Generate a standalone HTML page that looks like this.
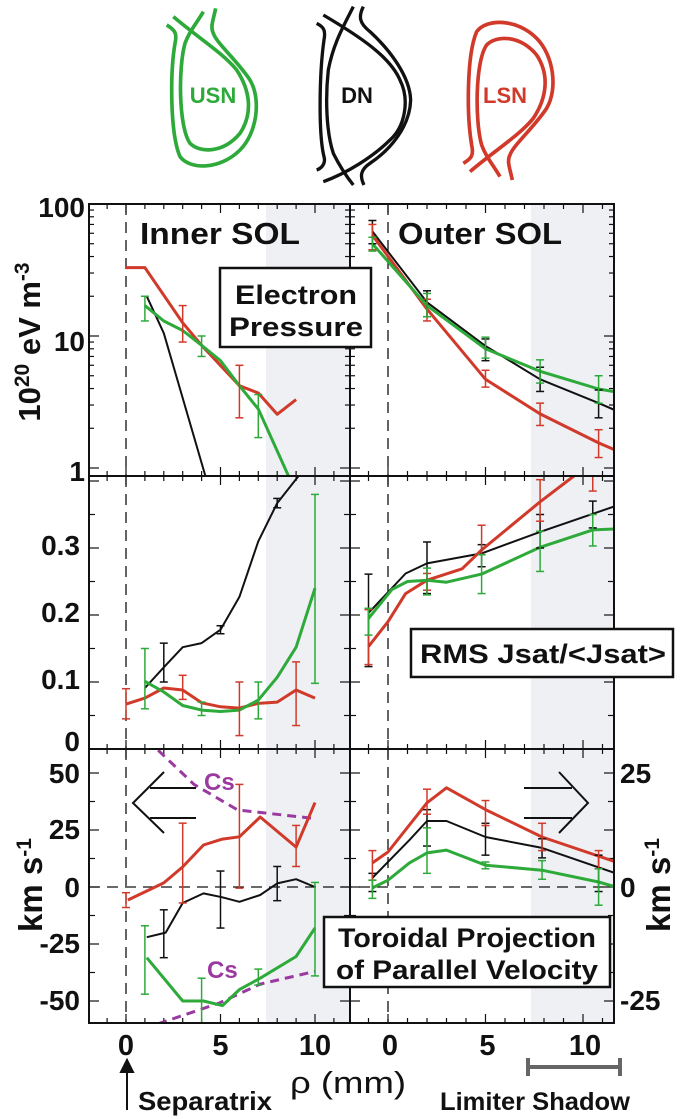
<!DOCTYPE html>
<html><head><meta charset="utf-8">
<style>
html,body{margin:0;padding:0;background:#fff;}
svg{display:block;font-family:"Liberation Sans",Arial,sans-serif;font-weight:bold;}
</style></head>
<body>
<svg id="fig" width="685" height="1119" viewBox="0 0 685 1119" xmlns="http://www.w3.org/2000/svg">
<defs>
<clipPath id="cIn1"><rect x="89" y="204" width="261" height="272"/></clipPath>
<clipPath id="cOut1"><rect x="350" y="204" width="264" height="272"/></clipPath>
<clipPath id="cIn2"><rect x="89" y="476" width="261" height="273"/></clipPath>
<clipPath id="cOut2"><rect x="350" y="476" width="264" height="273"/></clipPath>
<clipPath id="cIn3"><rect x="89" y="749" width="261" height="274"/></clipPath>
<clipPath id="cOut3"><rect x="350" y="749" width="264" height="274"/></clipPath>
</defs>
<!-- schematics (drawn in 3x coords) -->
<g fill="none" stroke="#2eaa3a" stroke-width="11" transform="translate(160,0) scale(0.3333)">
<path d="M20,75 C45,90 52,100 45,130 C30,220 30,400 60,470 C90,510 180,510 240,450 C290,400 305,300 270,240 C230,180 170,130 160,100 C150,80 160,60 167,25"/>
<path d="M130,35 C110,70 90,90 75,130 C55,200 55,380 90,430 C120,460 190,460 240,400 C280,340 270,270 230,210 C190,160 110,110 40,50"/>
</g>
<text x="213" y="103" fill="#2eaa3a" font-size="22" text-anchor="middle">USN</text>
<g fill="none" stroke="#111" stroke-width="10" transform="translate(160,0) scale(0.3333)">
<path d="M470,70 C490,80 498,90 492,120 C478,220 475,400 492,470 C498,490 485,505 470,510"/>
<path d="M490,45 C600,110 690,170 720,240 C750,300 735,380 690,420 C640,470 560,520 490,545"/>
<path d="M580,20 C550,80 520,130 505,210 C495,300 500,400 520,460 C540,500 560,530 580,555"/>
<path d="M610,20 C595,50 598,70 630,95 C690,150 750,230 752,300 C750,380 690,450 630,490 C600,510 600,530 612,555"/>
</g>
<text x="357" y="103" fill="#111" font-size="22" text-anchor="middle">DN</text>
<g fill="none" stroke="#d13a2a" stroke-width="11" transform="translate(160,0) scale(0.3333) translate(890,565) scale(1,-1)">
<path d="M20,75 C45,90 52,100 45,130 C30,220 30,400 60,470 C90,510 180,510 240,450 C290,400 305,300 270,240 C230,180 170,130 160,100 C150,80 160,60 167,25"/>
<path d="M130,35 C110,70 90,90 75,130 C55,200 55,380 90,430 C120,460 190,460 240,400 C280,340 270,270 230,210 C190,160 110,110 40,50"/>
</g>
<text x="505" y="103" fill="#d13a2a" font-size="22" text-anchor="middle">LSN</text>
<g id="plots"></g>
</svg>
<script>
// ---------- data: panel 1 (electron pressure, log) ----------
const p1InRedX=[0,1,3,4,6,7,8,9];
const p1InRedY=[33,33,12.6,8.5,4.2,3.7,2.55,3.3];
const p1InRedErrX=[3,6]; const p1InRedErrLo=[9,2.4]; const p1InRedErrHi=[17,6];
const p1InGreenX=[1,2,3,4,5,6,7,8.6];
const p1InGreenY=[17,13,11,8.5,6.5,4.2,2.8,0.87];
const p1InGreenErrX=[1,4,7]; const p1InGreenErrLo=[13,7,1.7]; const p1InGreenErrHi=[20,10,3.6];
const p1InBlackX=[1.1,2,4.2];
const p1InBlackY=[20,10.5,0.87];
const p1OutX=[-0.8,2,5,7.8,10.8,12];
const p1OutBlackY=[62,18,8.4,4.7,3.1,2.6];
const p1OutRedY=[58,16,4.7,2.57,1.55,1.3];
const p1OutGreenY=[50,17,8,5.4,3.97,3.7];
const p1OutErrX=[-0.8,2,5,7.8,10.8];
const p1OutBlackLo=[50,14,6.5,3.8,2.4]; const p1OutBlackHi=[75,22,9.5,5.8,3.9];
const p1OutRedLo=[45,13,4.1,2.1,1.2]; const p1OutRedHi=[70,19,5.5,3.1,1.95];
const p1OutGreenLo=[44,14,6.8,4.4,3.1]; const p1OutGreenHi=[56,21,9.8,6.6,5.0];
// ---------- data: panel 2 (RMS Jsat) ----------
const p2InX=[0,1,2,3,4,5,6,7,8,9,10];
const p2InBlackX=[1,2,3,4,5,6,7,8,9.2];
const p2InBlackY=[0.091,0.122,0.152,0.158,0.178,0.227,0.31,0.367,0.41];
const p2InBlackErrX=[2,5,8]; const p2InBlackErrLo=[0.1,0.172,0.36]; const p2InBlackErrHi=[0.158,0.184,0.374];
const p2InRedY=[0.067,0.076,0.091,0.088,0.069,0.063,0.061,0.068,0.07,0.088,0.076];
const p2InRedErrX=[0,3,6,9]; const p2InRedErrLo=[0.045,0.074,0.02,0.035]; const p2InRedErrHi=[0.09,0.11,0.1,0.13];
const p2InGreenX=[1,2,3,4,5,6,7,8,9,10];
const p2InGreenY=[0.101,0.085,0.065,0.058,0.056,0.058,0.073,0.107,0.152,0.24];
const p2InGreenErrX=[1,4,7,10]; const p2InGreenErrLo=[0.06,0.05,0.045,0.098]; const p2InGreenErrHi=[0.15,0.07,0.1,0.38];
const p2OutBlackX=[-1,0.9,2,4.8,7.8,10.5,12];
const p2OutBlackY=[0.203,0.262,0.277,0.292,0.324,0.351,0.366];
const p2OutRedX=[-1,0,0.9,2,3.8,4.8,7.8,9.6];
const p2OutRedY=[0.153,0.19,0.232,0.252,0.269,0.297,0.369,0.409];
const p2OutGreenX=[-1,0.2,1,2,3,4.8,7.8,10.5,12];
const p2OutGreenY=[0.195,0.238,0.25,0.252,0.249,0.261,0.301,0.327,0.329];
const p2OutErrX=[-1,2,4.8,7.8,10.5];
const p2OutBlackLo=[0.123,0.232,0.272,0.3,0.33]; const p2OutBlackHi=[0.261,0.309,0.305,0.35,0.37];
const p2OutRedLo=[0.126,0.237,0.29,0.34,0.385]; const p2OutRedHi=[0.208,0.262,0.334,0.402,0.41];
const p2OutGreenLo=[0.17,0.23,0.232,0.265,0.303]; const p2OutGreenHi=[0.21,0.27,0.29,0.325,0.35];
// ---------- data: panel 3 (velocity) ----------
const p3InRedX=[0.1,2,3,4.1,5.1,6,7.1,9,10];
const p3InRedY=[-5.7,1.8,8.8,18.4,21,22,30.7,17.5,37];
const p3InRedErrX=[0,3,6,9]; const p3InRedErrLo=[-9,-7,-0.5,9]; const p3InRedErrHi=[-2.5,28,45,27];
const p3InBlackX=[1.1,2.1,3,4.1,5.1,6,7.1,8,9,10];
const p3InBlackY=[-22,-20,-7,-2.8,-4.5,-6.5,-3.5,1.6,3.4,0];
const p3InBlackErrX=[2,5,8]; const p3InBlackErrLo=[-31,-18,-6]; const p3InBlackErrHi=[-10,7,9];
const p3InGreenX=[1.1,2.1,3,4.1,5.1,6,7.1,9,10];
const p3InGreenY=[-31,-41,-50,-50,-52,-45,-40,-30.5,-18];
const p3InGreenErrX=[1,4,7,10]; const p3InGreenErrLo=[-47,-60,-43,-39]; const p3InGreenErrHi=[-17,-40,-36,2];
const csTopX=[1.7,3.6,5.9,10]; const csTopY=[60,45,33.8,30];
const csBotX=[1.7,4.9,7.1,10]; const csBotY=[-60,-51,-42.6,-37];
const p3OutRedX=[-0.8,0,2,3,5,7.9,11.7];
const p3OutRedY=[5.3,7.7,18.5,21.8,17,11,5.5];
const p3OutBlackX=[-0.8,1.1,2,3,5,7.9,11.7];
const p3OutBlackY=[2,10.3,14.5,14.5,11,8.6,3];
const p3OutGreenX=[-0.8,0,1.1,2,3,5,7.9,10.8,11.7];
const p3OutGreenY=[-0.2,1.5,5.3,7.5,8.1,4.8,3.7,1.1,0];
const p3OutErrX=[-0.8,2,5,7.9,10.8];
const p3OutRedLo=[1.5,16,13.5,8,4]; const p3OutRedHi=[8,21.5,19,14,8];
const p3OutBlackLo=[-1,9,7,6.4,-1]; const p3OutBlackHi=[3,17,14,10.6,7];
const p3OutGreenLo=[-2.5,3,4,1.7,-4]; const p3OutGreenHi=[1.5,13,5.5,5.8,4];

// ---------- axes ----------
const xIn=mm=>126+18.9*mm;
const xOut=mm=>388+19.5*mm;
const y1=v=>468-132*Math.log10(v);
const y2=v=>749-670*v;
const y3In=v=>887-2.28*v;
const y3Out=v=>887-4.55*v;
const RED='#d13a2a',GREEN='#2eaa3a',BLACK='#111',PURPLE='#9a3aa0';
const NS='http://www.w3.org/2000/svg';
const root=document.getElementById('plots');
function mk(tag,attrs,parent){const e=document.createElementNS(NS,tag);for(const k in attrs)e.setAttribute(k,attrs[k]);(parent||root).appendChild(e);return e;}
function grp(clip){return mk('g',clip?{'clip-path':'url(#'+clip+')'}:{});}
function line(xs,ys,fx,fy,color,w,clip,name,dash){
  const g=grp(clip);
  const pts=xs.map((x,i)=>fx(x).toFixed(1)+','+fy(ys[i]).toFixed(1)).join(' ');
  const attrs={points:pts,fill:'none',stroke:color,'stroke-width':w,'stroke-linejoin':'round'};
  if(dash)attrs['stroke-dasharray']=dash;
  const p=mk('polyline',attrs,g);
  
  
}
function errs(xs,lo,hi,fx,fy,color,clip,name){
  const g=grp(clip);
  
  
  xs.forEach((x,i)=>{const X=fx(x),a=fy(lo[i]),b=fy(hi[i]);
    mk('line',{x1:X,x2:X,y1:a,y2:b,stroke:color,'stroke-width':1.5},g);
    mk('line',{x1:X-4,x2:X+4,y1:a,y2:a,stroke:color,'stroke-width':1.5},g);
    mk('line',{x1:X-4,x2:X+4,y1:b,y2:b,stroke:color,'stroke-width':1.5},g);});
}
function txt(x,y,s,size,anchor,name,color,extra){
  const t=mk('text',Object.assign({x:x,y:y,'font-size':size,'text-anchor':anchor||'start',fill:color||'#111'},extra||{}));
  t.textContent=s;
  
  
  return t;
}
// shading
[[204,476],[476,749],[749,1023]].forEach(([a,b])=>{
  mk('rect',{x:266,y:a,width:84,height:b-a,fill:'#eef0f4'});
  mk('rect',{x:531,y:a,width:83,height:b-a,fill:'#eef0f4'});
});
[[204,476],[476,749],[749,1023]].forEach(([a,b])=>{
  mk('line',{x1:xIn(0),x2:xIn(0),y1:a,y2:b,stroke:'#111','stroke-width':1.3,'stroke-dasharray':'11,7'});
  mk('line',{x1:xOut(0),x2:xOut(0),y1:a,y2:b,stroke:'#111','stroke-width':1.3,'stroke-dasharray':'11,7'});
});
mk('line',{x1:89,x2:614,y1:887,y2:887,stroke:'#111','stroke-width':1.2,'stroke-dasharray':'11,7'});
const panelsY=[204,476,749,1023];
panelsY.forEach(py=>{
  for(let m=-1;m<=11;m++){const X=xIn(m);if(X<=90||X>=349)continue;const L=(m%5===0)?9:5;
    mk('line',{x1:X,x2:X,y1:py-(py>204?L:0),y2:py+(py<1023?L:0),stroke:'#111','stroke-width':1.2});}
  for(let m=-1;m<=12;m++){const X=xOut(m);if(X<=351||X>=613)continue;const L=(m%5===0)?9:5;
    mk('line',{x1:X,x2:X,y1:py-(py>204?L:0),y2:py+(py<1023?L:0),stroke:'#111','stroke-width':1.2});}
});
function yt(Y,L){[[89,1],[350,-1],[350,1],[614,-1]].forEach(([x,d])=>mk('line',{x1:x,x2:x+d*L,y1:Y,y2:Y,stroke:'#111','stroke-width':1.2}));}
[1,10].forEach(d=>{for(let k=1;k<=9;k++){const v=d*k;if(v<0.9)continue;yt(y1(v),k===1?10:5);}});yt(y1(100),10);
for(let v=0.05;v<0.41;v+=0.05)yt(y2(v),Math.abs(v*10-Math.round(v*10))<0.01?10:6);
for(let v=-50;v<=50;v+=12.5)yt(y3In(v),v%25===0?10:6);
// panel 1
line(p1InBlackX,p1InBlackY,xIn,y1,BLACK,2,'cIn1','p1-inner-dn-line');
line(p1InRedX,p1InRedY,xIn,y1,RED,3,'cIn1','p1-inner-lsn-line');
line(p1InGreenX,p1InGreenY,xIn,y1,GREEN,3,'cIn1','p1-inner-usn-line');
errs(p1InRedErrX,p1InRedErrLo,p1InRedErrHi,xIn,y1,RED,'cIn1','p1-inner-lsn-errors');
errs(p1InGreenErrX,p1InGreenErrLo,p1InGreenErrHi,xIn,y1,GREEN,'cIn1','p1-inner-usn-errors');
line(p1OutX,p1OutBlackY,xOut,y1,BLACK,2,'cOut1','p1-outer-dn-line');
line(p1OutX,p1OutRedY,xOut,y1,RED,3,'cOut1','p1-outer-lsn-line');
line(p1OutX,p1OutGreenY,xOut,y1,GREEN,3,'cOut1','p1-outer-usn-line');
errs(p1OutErrX,p1OutBlackLo,p1OutBlackHi,xOut,y1,BLACK,'cOut1','p1-outer-dn-errors');
errs(p1OutErrX,p1OutRedLo,p1OutRedHi,xOut,y1,RED,'cOut1','p1-outer-lsn-errors');
errs(p1OutErrX,p1OutGreenLo,p1OutGreenHi,xOut,y1,GREEN,'cOut1','p1-outer-usn-errors');
// panel 2
line(p2InBlackX,p2InBlackY,xIn,y2,BLACK,2,'cIn2','p2-inner-dn-line');
line(p2InX,p2InRedY,xIn,y2,RED,3,'cIn2','p2-inner-lsn-line');
line(p2InGreenX,p2InGreenY,xIn,y2,GREEN,3,'cIn2','p2-inner-usn-line');
errs(p2InBlackErrX,p2InBlackErrLo,p2InBlackErrHi,xIn,y2,BLACK,'cIn2','p2-inner-dn-errors');
errs(p2InRedErrX,p2InRedErrLo,p2InRedErrHi,xIn,y2,RED,'cIn2','p2-inner-lsn-errors');
errs(p2InGreenErrX,p2InGreenErrLo,p2InGreenErrHi,xIn,y2,GREEN,'cIn2','p2-inner-usn-errors');
line(p2OutBlackX,p2OutBlackY,xOut,y2,BLACK,2,'cOut2','p2-outer-dn-line');
line(p2OutRedX,p2OutRedY,xOut,y2,RED,3,'cOut2','p2-outer-lsn-line');
line(p2OutGreenX,p2OutGreenY,xOut,y2,GREEN,3,'cOut2','p2-outer-usn-line');
errs(p2OutErrX,p2OutBlackLo,p2OutBlackHi,xOut,y2,BLACK,'cOut2','p2-outer-dn-errors');
errs(p2OutErrX,p2OutRedLo,p2OutRedHi,xOut,y2,RED,'cOut2','p2-outer-lsn-errors');
errs(p2OutErrX,p2OutGreenLo,p2OutGreenHi,xOut,y2,GREEN,'cOut2','p2-outer-usn-errors');
// panel 3
line(csTopX,csTopY,xIn,y3In,PURPLE,3,'cIn3','cs-upper-dashed','9,6');
line(csBotX,csBotY,xIn,y3In,PURPLE,3,'cIn3','cs-lower-dashed','9,6');
line(p3InBlackX,p3InBlackY,xIn,y3In,BLACK,2,'cIn3','p3-inner-dn-line');
line(p3InRedX,p3InRedY,xIn,y3In,RED,3,'cIn3','p3-inner-lsn-line');
line(p3InGreenX,p3InGreenY,xIn,y3In,GREEN,3,'cIn3','p3-inner-usn-line');
errs(p3InBlackErrX,p3InBlackErrLo,p3InBlackErrHi,xIn,y3In,BLACK,'cIn3','p3-inner-dn-errors');
errs(p3InRedErrX,p3InRedErrLo,p3InRedErrHi,xIn,y3In,RED,'cIn3','p3-inner-lsn-errors');
errs(p3InGreenErrX,p3InGreenErrLo,p3InGreenErrHi,xIn,y3In,GREEN,'cIn3','p3-inner-usn-errors');
line(p3OutBlackX,p3OutBlackY,xOut,y3Out,BLACK,2,'cOut3','p3-outer-dn-line');
line(p3OutRedX,p3OutRedY,xOut,y3Out,RED,3,'cOut3','p3-outer-lsn-line');
line(p3OutGreenX,p3OutGreenY,xOut,y3Out,GREEN,3,'cOut3','p3-outer-usn-line');
errs(p3OutErrX,p3OutBlackLo,p3OutBlackHi,xOut,y3Out,BLACK,'cOut3','p3-outer-dn-errors');
errs(p3OutErrX,p3OutRedLo,p3OutRedHi,xOut,y3Out,RED,'cOut3','p3-outer-lsn-errors');
errs(p3OutErrX,p3OutGreenLo,p3OutGreenHi,xOut,y3Out,GREEN,'cOut3','p3-outer-usn-errors');
txt(204,790,'Cs',24,'start','cs-upper-label',PURPLE);
txt(207,978,'Cs',24,'start','cs-lower-label',PURPLE);
// frames
mk('rect',{x:89,y:204,width:525,height:819,fill:'none',stroke:'#111','stroke-width':2});
mk('line',{x1:350,x2:350,y1:204,y2:1023,stroke:'#111','stroke-width':2});
mk('line',{x1:89,x2:614,y1:476,y2:476,stroke:'#111','stroke-width':2});
mk('line',{x1:89,x2:614,y1:749,y2:749,stroke:'#111','stroke-width':2});
// arrows
const arL=mk('g',{fill:'none',stroke:'#111','stroke-width':2});


mk('path',{d:'M150 788 L196 788 M150 818 L196 818 M164 772 L133 803 L164 833'},arL);
const arR=mk('g',{fill:'none',stroke:'#111','stroke-width':2});


mk('path',{d:'M524 788 L572 788 M524 818 L572 818 M559 772 L588 803 L559 833'},arR);
// boxes
function box(x,y,w,h,name){const r=mk('rect',{x:x,y:y,width:w,height:h,fill:'#fff',stroke:'#111','stroke-width':2.5});}
box(220,268,151,79,'electron-pressure-box');
txt(296,304,'Electron',27,'middle','electron-pressure-label-1',null,{textLength:122,lengthAdjust:'spacingAndGlyphs'});
txt(296,336,'Pressure',27,'middle','electron-pressure-label-2',null,{textLength:134,lengthAdjust:'spacingAndGlyphs'});
box(411,629,262,48,'rms-jsat-box');
txt(420,663,'RMS Jsat/<Jsat>',27,'start','rms-jsat-label',null,{textLength:246,lengthAdjust:'spacingAndGlyphs'});
box(324,917,286,70,'toroidal-velocity-box');
txt(467,947,'Toroidal Projection',27,'middle','toroidal-label-1',null,{textLength:258,lengthAdjust:'spacingAndGlyphs'});
txt(467,979,'of Parallel Velocity',27,'middle','toroidal-label-2',null,{textLength:262,lengthAdjust:'spacingAndGlyphs'});
txt(140,244,'Inner SOL',31,'start','inner-sol-title',null,{textLength:160,lengthAdjust:'spacingAndGlyphs'});
txt(398,244,'Outer SOL',31,'start','outer-sol-title',null,{textLength:164,lengthAdjust:'spacingAndGlyphs'});
// tick labels
[['100',217],['10',351],['1',481]].forEach(([s,y])=>txt(85,y,s,28,'end','p1-ytick-'+s));
[['0.3',555],['0.2',622],['0.1',689],['0',751]].forEach(([s,y])=>txt(80,y,s,28,'end','p2-ytick-'+s));
[['50',783],['25',839],['0',897],['-25',953],['-50',1010]].forEach(([s,y])=>txt(80,y,s,28,'end','p3-left-ytick-'+s));
[['25',783],['0',897],['-25',1010]].forEach(([s,y])=>txt(620,y,s,28,'start','p3-right-ytick-'+s));
[0,5,10].forEach(m=>{txt(xIn(m),1055,String(m),29,'middle','x-inner-tick-'+m);txt(xOut(m)+2,1055,String(m),29,'middle','x-outer-tick-'+m);});
txt(348,1093,'ρ (mm)',31,'middle','x-axis-title',null,{'font-weight':'normal',textLength:116,lengthAdjust:'spacingAndGlyphs'});
const yl=mk('text',{x:0,y:0,'font-size':31,'text-anchor':'middle',fill:'#111',transform:'translate(40,342) rotate(-90)'});


yl.innerHTML='10<tspan dy="-11" font-size="21">20</tspan><tspan dy="11"> eV m</tspan><tspan dy="-11" font-size="21">-3</tspan>';
const yl2=mk('text',{x:0,y:0,'font-size':33,'text-anchor':'middle',fill:'#111',transform:'translate(42,885) rotate(-90)'});


yl2.innerHTML='km s<tspan dy="-11" font-size="21">-1</tspan>';
const yl3=mk('text',{x:0,y:0,'font-size':33,'text-anchor':'middle',fill:'#111',transform:'translate(670,885) rotate(-90)'});


yl3.innerHTML='km s<tspan dy="-11" font-size="21">-1</tspan>';
// separatrix annotation
const sa=mk('g',{stroke:'#111','stroke-width':2,fill:'#111'});


mk('line',{x1:127,x2:127,y1:1068,y2:1110},sa);
mk('path',{d:'M121 1072 L127 1060 L133 1072 Z'},sa);
txt(138,1110,'Separatrix',26,'start','separatrix-label',null,{textLength:134,lengthAdjust:'spacingAndGlyphs'});
const ls=mk('path',{d:'M528 1058 L528 1076 M528 1067 L620 1067 M620 1058 L620 1076',stroke:'#666','stroke-width':4,fill:'none'});


txt(535,1110,'Limiter Shadow',25,'middle','limiter-shadow-label',null,{textLength:190,lengthAdjust:'spacingAndGlyphs'});
</script>
</body></html>
